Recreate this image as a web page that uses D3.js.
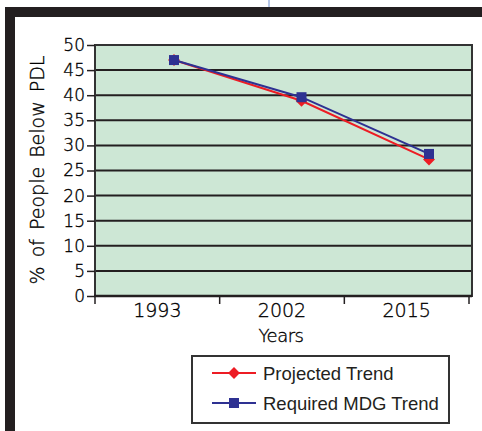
<!DOCTYPE html>
<html>
<head>
<meta charset="utf-8">
<script src="https://cdnjs.cloudflare.com/ajax/libs/d3/7.8.5/d3.min.js"></script>
<style>
  body { margin: 0; background: #fff; }
  svg text { font-family: "DejaVu Sans", sans-serif; font-weight: 200; fill: #000; stroke: #000; stroke-width: 0.35px; }
  .legendText { font-family: "Liberation Sans Narrow", "Liberation Sans", sans-serif; font-weight: 400; stroke: none; fill: #231f20; }
</style>
</head>
<body>
<div id="chart"></div>
<script>
// chart data
var years = ["1993", "2002", "2015"];
var projectedTrend = [47, 38.9, 27.2];
var requiredTrend = [47, 39.6, 28.3];
var yTicks = [0, 5, 10, 15, 20, 25, 30, 35, 40, 45, 50];
var seriesNames = ["Projected Trend", "Required MDG Trend"];
var seriesColors = ["#ed1c24", "#2e3192"];

var width = 482;
var height = 431;

var plot = { left: 95, right: 472, top: 45, bottom: 296 };

var svg = d3.select("#chart").append("svg")
  .attr("width", width)
  .attr("height", height);

// outer frame
svg.append("line")
  .attr("x1", 269).attr("x2", 269).attr("y1", 0).attr("y2", 8)
  .attr("stroke", "#6f8fd0").attr("stroke-width", 1);
svg.append("rect")
  .attr("x", 5).attr("y", 7).attr("width", width).attr("height", 10)
  .attr("fill", "#231f20");
svg.append("rect")
  .attr("x", 5).attr("y", 7).attr("width", 10).attr("height", height)
  .attr("fill", "#231f20");

var yScale = d3.scaleLinear()
  .domain([0, 50])
  .range([plot.bottom, plot.top]);

var xBand = d3.scaleBand()   // category slots for labels and ticks
  .domain(years)
  .range([plot.left, 469]);

var xPoint = d3.scalePoint() // where the markers sit
  .domain(years)
  .range([174, 429]);

// plot background
svg.append("rect")
  .attr("x", plot.left)
  .attr("y", plot.top)
  .attr("width", plot.right - plot.left)
  .attr("height", plot.bottom - plot.top)
  .attr("fill", "#cde7d5");

// gridlines
svg.selectAll(".grid")
  .data(yTicks.filter(function(d) { return d > 0; }))
  .enter()
  .append("line")
  .attr("class", "grid")
  .attr("x1", plot.left)
  .attr("x2", plot.right)
  .attr("y1", function(d) { return yScale(d); })
  .attr("y2", function(d) { return yScale(d); })
  .attr("stroke", "#231f20")
  .attr("stroke-width", 2);

// plot border
svg.append("rect")
  .attr("x", plot.left)
  .attr("y", plot.top)
  .attr("width", plot.right - plot.left)
  .attr("height", plot.bottom - plot.top)
  .attr("fill", "none")
  .attr("stroke", "#333")
  .attr("stroke-width", 2);

// y axis
var yAxis = d3.axisLeft(yScale)
  .tickValues(yTicks)
  .tickSize(8)
  .tickPadding(2);

var gy = svg.append("g")
  .attr("transform", "translate(" + plot.left + ",0)")
  .call(yAxis);
gy.select(".domain").remove();
gy.selectAll(".tick line").attr("stroke", "#231f20").attr("stroke-width", 1.5);
gy.selectAll(".tick text")
  .style("font-size", "17px")
  .style("font-family", "DejaVu Sans, sans-serif")
  .style("font-weight", "200")
  .attr("fill", "#000");

// x axis ticks at slot boundaries
svg.selectAll(".xtick")
  .data([plot.left].concat(years.map(function(d) { return xBand(d) + xBand.bandwidth(); })))
  .enter()
  .append("line")
  .attr("class", "xtick")
  .attr("x1", function(d) { return d; })
  .attr("x2", function(d) { return d; })
  .attr("y1", plot.bottom)
  .attr("y2", plot.bottom + 8)
  .attr("stroke", "#231f20")
  .attr("stroke-width", 1.5);

svg.append("line")
  .attr("x1", plot.left - 1).attr("x2", plot.right)
  .attr("y1", plot.bottom).attr("y2", plot.bottom)
  .attr("stroke", "#231f20").attr("stroke-width", 2.5);

svg.selectAll(".xlabel")
  .data(years)
  .enter()
  .append("text")
  .attr("class", "xlabel")
  .attr("x", function(d) { return xBand(d) + xBand.bandwidth() / 2; })
  .attr("y", 317)
  .attr("text-anchor", "middle")
  .style("font-size", "19px")
  .text(function(d) { return d; });

// axis titles
svg.append("text")
  .attr("x", 281)
  .attr("y", 342)
  .attr("text-anchor", "middle")
  .style("font-size", "18px")
  .style("letter-spacing", "-0.5px")
  .text("Years");

svg.append("text")
  .attr("transform", "translate(44,170) rotate(-90)")
  .attr("text-anchor", "middle")
  .style("font-size", "19px")
  .style("word-spacing", "3px")
  .text("% of People Below PDL");

// series lines and markers
var line = d3.line()
  .x(function(d, i) { return xPoint(years[i]); })
  .y(function(d) { return yScale(d); });

var diamond = d3.symbol().type(d3.symbolDiamond2).size(90);

svg.append("path")
  .datum(projectedTrend)
  .attr("d", line)
  .attr("fill", "none")
  .attr("stroke", seriesColors[0])
  .attr("stroke-width", 2);

svg.selectAll(".projected")
  .data(projectedTrend)
  .enter()
  .append("path")
  .attr("class", "projected")
  .attr("d", diamond)
  .attr("transform", function(d, i) {
    return "translate(" + xPoint(years[i]) + "," + yScale(d) + ")";
  })
  .attr("fill", seriesColors[0]);

svg.append("path")
  .datum(requiredTrend)
  .attr("d", line)
  .attr("fill", "none")
  .attr("stroke", seriesColors[1])
  .attr("stroke-width", 2);

svg.selectAll(".required")
  .data(requiredTrend)
  .enter()
  .append("rect")
  .attr("class", "required")
  .attr("x", function(d, i) { return xPoint(years[i]) - 5; })
  .attr("y", function(d) { return yScale(d) - 5; })
  .attr("width", 10)
  .attr("height", 10)
  .attr("fill", seriesColors[1]);

// legend
var legend = svg.append("g")
  .attr("transform", "translate(192,356)");

legend.append("rect")
  .attr("width", 257)
  .attr("height", 67)
  .attr("fill", "#fff")
  .attr("stroke", "#333")
  .attr("stroke-width", 2);

var rows = legend.selectAll(".legend")
  .data(seriesNames)
  .enter()
  .append("g")
  .attr("class", "legend")
  .attr("transform", function(d, i) { return "translate(0," + (17 + i * 30) + ")"; });

rows.append("line")
  .attr("x1", 20).attr("x2", 64)
  .attr("stroke", function(d, i) { return seriesColors[i]; })
  .attr("stroke-width", 2);

rows.append("path")
  .attr("d", function(d, i) {
    return i === 0 ? diamond() : d3.symbol().type(d3.symbolSquare).size(100)();
  })
  .attr("transform", "translate(42,0)")
  .attr("fill", function(d, i) { return seriesColors[i]; });

rows.append("text")
  .attr("class", "legendText")
  .attr("x", 71)
  .attr("y", 7)
  .style("font-size", "18.5px")
  .text(function(d) { return d; });
</script>
</body>
</html>
